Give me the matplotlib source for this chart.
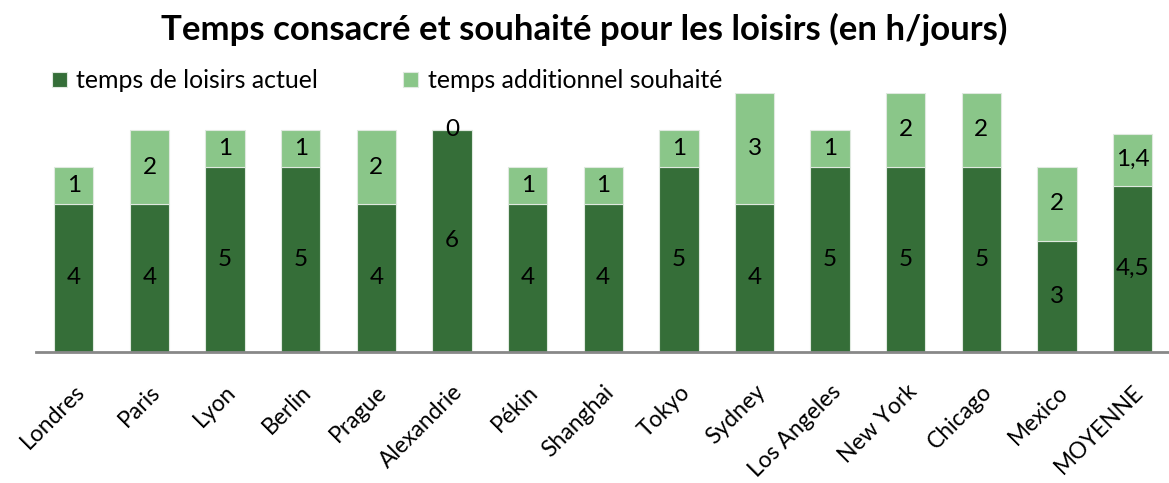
import numpy as np
import matplotlib.pyplot as plt

# data
villes = ['Londres', 'Paris', 'Lyon', 'Berlin', 'Prague', 'Alexandrie', 'Pékin', 'Shanghai',
          'Tokyo', 'Sydney', 'Los Angeles', 'New York', 'Chicago', 'Mexico', 'MOYENNE']
actuel = [4, 4, 5, 5, 4, 6, 4, 4, 5, 4, 5, 5, 5, 3, 4.5]
souhaite = [1, 2, 1, 1, 2, 0, 1, 1, 1, 3, 1, 2, 2, 2, 1.4]

dark = '#356E38'
light = '#8AC689'

plt.rcParams['font.family'] = ['Lato', 'DejaVu Sans']

fig = plt.figure(figsize=(11.69, 4.83), dpi=100)
ax = fig.add_axes([36 / 1169, 1 - 352 / 483, 1 - 36 / 1169, (352 - 93) / 483])

x = np.arange(len(villes))
b1 = ax.bar(x, actuel, width=0.52, color=dark, edgecolor='#dfe9df', linewidth=0.8,
            label='temps de loisirs actuel')
b2 = ax.bar(x, souhaite, width=0.52, bottom=actuel, color=light, edgecolor='#dfe9df',
            linewidth=0.8, label='temps additionnel souhaité')


def fmt(v):
    s = ('%g' % v).replace('.', ',')
    return s


for i in range(len(villes)):
    ax.text(x[i], actuel[i] / 2, fmt(actuel[i]), ha='center', va='center', fontsize=17.5)
    ax.text(x[i], actuel[i] + souhaite[i] / 2, fmt(souhaite[i]), ha='center', va='center',
            fontsize=17.5)

ax.set_xlim(-0.5, 14.48)
ax.set_ylim(0, 7)
ax.set_yticks([])
for s in ['top', 'right', 'left']:
    ax.spines[s].set_visible(False)
ax.spines['bottom'].set_color('#888888')
ax.spines['bottom'].set_linewidth(2)

ax.set_xticks(x)
ax.set_xticklabels(villes, rotation=45, ha='right', va='top', rotation_mode='anchor',
                   fontsize=16.5)
ax.tick_params(axis='x', length=0, pad=21)

fig.text(0.5, 0.94, 'Temps consacré et souhaité pour les loisirs (en h/jours)',
         ha='center', va='center', fontsize=25, fontweight='bold')

ax.legend(loc='upper left', bbox_to_anchor=(0.005, 1.13), ncol=2, frameon=False,
          fontsize=17.9, handlelength=0.6, handleheight=0.6, handletextpad=0.4,
          columnspacing=3.4, borderaxespad=0)

fig.savefig('out.png', dpi=100)
